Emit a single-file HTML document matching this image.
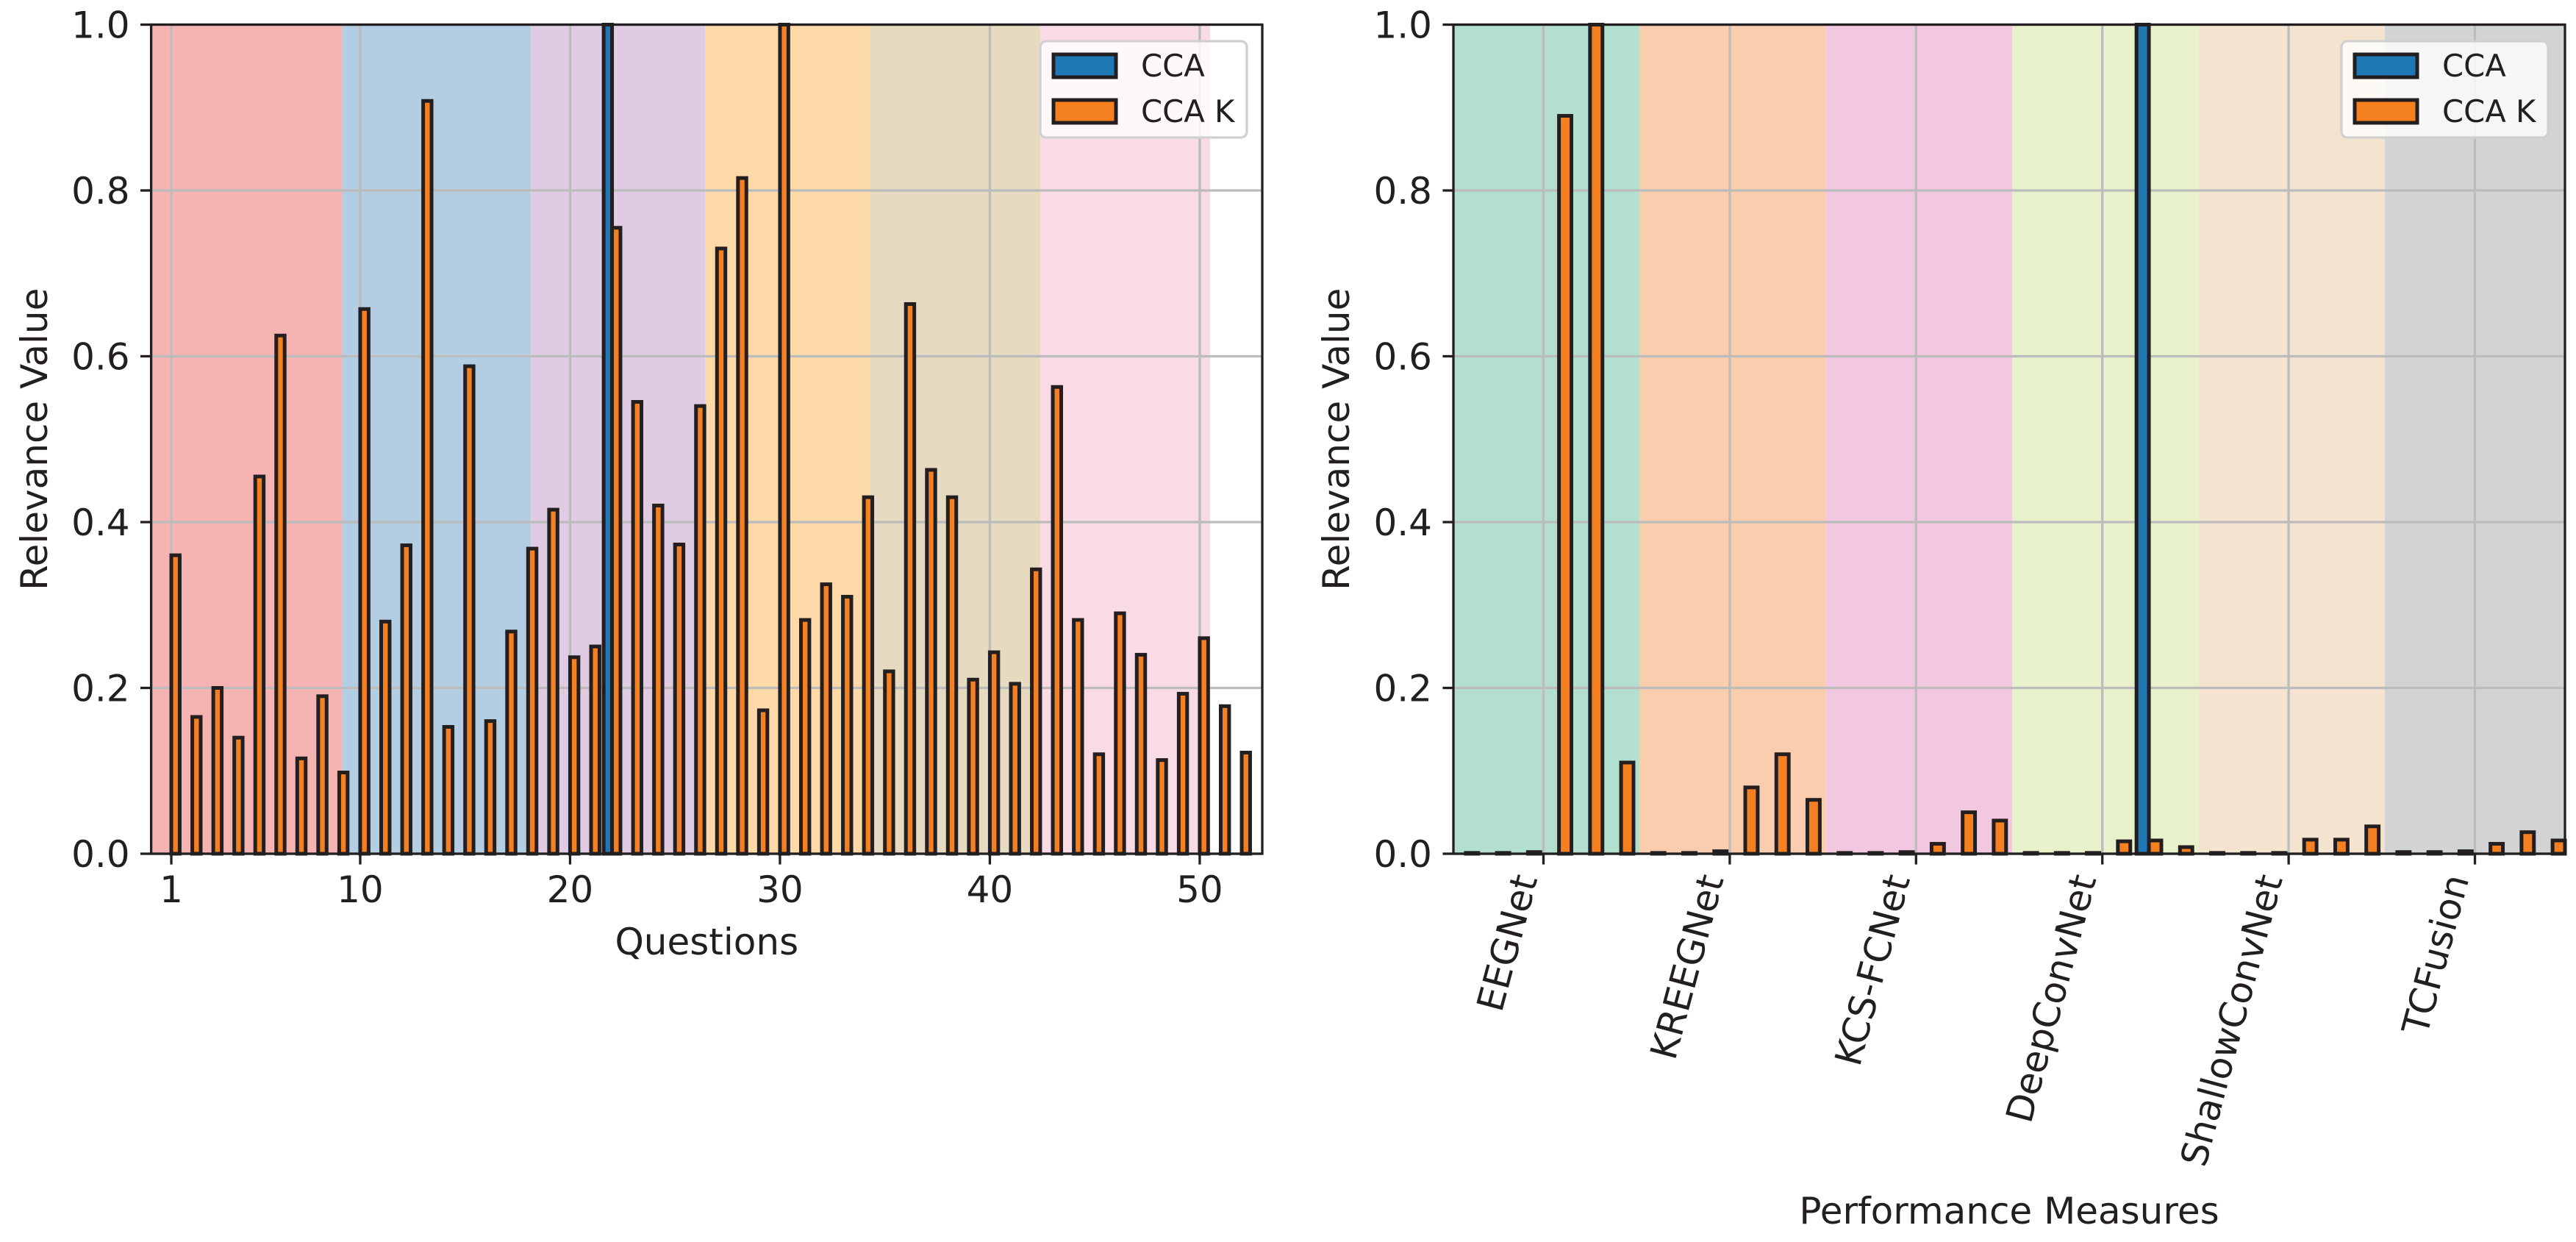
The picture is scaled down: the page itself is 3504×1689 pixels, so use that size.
<!DOCTYPE html>
<html><head><meta charset="utf-8"><style>
html,body{margin:0;padding:0;background:#fff;}
svg{display:block;font-family:"DejaVu Sans","Liberation Sans",sans-serif;}
</style></head><body>
<svg id="fig" width="3504" height="1689" viewBox="0 0 3504 1689" xmlns="http://www.w3.org/2000/svg"></svg>
<script>
// ---- Left chart data ----
const leftQuestions = Array.from({length:52},(_, i)=>i+1);
const leftCCA = [0,0,0,0,0,0,0,0,0,0,0,0,0,0,0,0,0,0,0,0,0,1.0,0,0,0,0,0,0,0,0,0,0,0,0,0,0,0,0,0,0,0,0,0,0,0,0,0,0,0,0,0,0];
const leftCCAK = [0.36,0.165,0.2,0.14,0.455,0.625,0.115,0.19,0.098,0.657,0.28,0.372,0.908,0.153,0.588,0.16,0.268,0.368,0.415,0.237,0.25,0.755,0.545,0.42,0.373,0.54,0.73,0.815,0.173,1.0,0.282,0.325,0.31,0.43,0.22,0.663,0.463,0.43,0.21,0.243,0.205,0.343,0.563,0.282,0.12,0.29,0.24,0.113,0.193,0.26,0.178,0.122];
const leftXTicks = [1,10,20,30,40,50];
const leftSpanEdges = [0.04,9.14,18.14,26.43,34.27,42.4,50.5];
// ---- Right chart data ----
const rightModels = ["EEGNet","KREEGNet","KCS-FCNet","DeepConvNet","ShallowConvNet","TCFusion"];
const rightCCA = [0,0,0,0,0,0, 0,0,0,0,0,0, 0,0,0,0,0,0, 0,0,0,0,1.0,0, 0,0,0,0,0,0, 0,0,0,0,0,0];
const rightCCAK = [0.001,0.001,0.002,0.89,1.0,0.11, 0.001,0.001,0.003,0.08,0.12,0.065, 0.001,0.001,0.002,0.012,0.05,0.04, 0.001,0.001,0.001,0.015,0.016,0.008, 0.001,0.001,0.001,0.017,0.017,0.033, 0.002,0.002,0.003,0.012,0.026,0.016];
const rightSpanEdges = [-0.4,5.6,11.6,17.6,23.6,29.6,35.4];
const yTicks = [0,0.2,0.4,0.6,0.8,1.0];

const NS="http://www.w3.org/2000/svg";
const svg=document.getElementById('fig');
function mk(tag,attrs,parent){const e=document.createElementNS(NS,tag);for(const k in attrs)e.setAttribute(k,attrs[k]);(parent||svg).appendChild(e);return e;}
const EDGE="#231f20", GRID="#bcbcbc", BLUE="#1f77b4", ORANGE="#f58020";
const TOP=33.5, BOT=1161, FS=50;

function drawAxes(cfg){
  const g=mk('g',{});
  
  
  const X=v=>cfg.L+(v-cfg.xmin)/(cfg.xmax-cfg.xmin)*(cfg.R-cfg.L);
  const Y=v=>BOT-v*(BOT-TOP);
  cfg.spanEdges.slice(0,-1).forEach((s,i)=>{
    const r=mk('rect',{x:X(Math.max(s,cfg.xmin)),y:TOP,width:X(cfg.spanEdges[i+1])-X(Math.max(s,cfg.xmin)),height:BOT-TOP,fill:cfg.spanColors[i]},g);
    
    
  });
  yTicks.forEach(t=>{const l=mk('line',{x1:cfg.L,x2:cfg.R,y1:Y(t),y2:Y(t),stroke:GRID,'stroke-width':3.3},g);
    });
  cfg.xticks.forEach(t=>{const l=mk('line',{x1:X(t),x2:X(t),y1:TOP,y2:BOT,stroke:GRID,'stroke-width':3.3},g);
    });
  const w=0.4;
  cfg.cats.forEach((c,i)=>{
    [[cfg.cca[i],-w,BLUE,'bar-cca'],[cfg.ccak[i],0,ORANGE,'bar-cca-k']].forEach(([v,off,col,nm])=>{
      const x0=X(c+off), x1=X(c+off+w);
      const b=mk('rect',{x:x0,y:Y(v),width:x1-x0,height:Math.max(Y(0)-Y(v),0),fill:col,stroke:EDGE,'stroke-width':5},g);
      
      
    });
  });
  const sp=mk('rect',{x:cfg.L,y:TOP,width:cfg.R-cfg.L,height:BOT-TOP,fill:'none',stroke:EDGE,'stroke-width':3.3},g);
  
  yTicks.forEach(t=>{
    mk('line',{x1:cfg.L-14.6,x2:cfg.L,y1:Y(t),y2:Y(t),stroke:EDGE,'stroke-width':3.3},g);
    const tx=mk('text',{x:cfg.L-29,y:Y(t)+18,'text-anchor':'end','font-size':FS,fill:EDGE},g);
    tx.textContent=t.toFixed(1);
    
  });
  cfg.xticks.forEach((t,i)=>{
    mk('line',{x1:X(t),x2:X(t),y1:BOT,y2:BOT+14.6,stroke:EDGE,'stroke-width':3.3},g);
    let tx;
    if(cfg.rot){
      const px=X(t)-8, py=BOT+34;
      tx=mk('text',{x:px,y:py,'text-anchor':'end','font-size':FS,fill:EDGE,transform:`rotate(-75 ${px} ${py})`},g);
    }else{
      tx=mk('text',{x:X(t),y:BOT+66,'text-anchor':'middle','font-size':FS,fill:EDGE},g);
    }
    tx.textContent=cfg.xlabels[i];
    
  });
  const yl=mk('text',{x:0,y:0,'text-anchor':'middle','font-size':FS,fill:EDGE,transform:`translate(${cfg.ylabX} ${(TOP+BOT)/2}) rotate(-90)`},g);
  yl.textContent='Relevance Value';
  
  const xl=mk('text',{x:(cfg.L+cfg.R)/2,y:cfg.xlabY,'text-anchor':'middle','font-size':FS,fill:EDGE},g);
  xl.textContent=cfg.xtitle;
  
  const lg=mk('g',{},g);
  
  mk('rect',{x:cfg.legX,y:56,width:281,height:131,rx:8,fill:'#ffffff','fill-opacity':0.8,stroke:'#d0d0d0','stroke-width':3.3},lg);
  [[BLUE,'CCA',74],[ORANGE,'CCA K',136]].forEach(([col,lab,yy])=>{
    const h=mk('rect',{x:cfg.legX+18,y:yy,width:85,height:31,fill:col,stroke:EDGE,'stroke-width':5},lg);
    
    const t=mk('text',{x:cfg.legX+137,y:yy+30,'font-size':41.7,fill:EDGE},lg);
    t.textContent=lab;
    
  });
}

drawAxes({name:'left-chart',L:205.6,R:1717,xmin:0.04,xmax:52.98,cats:leftQuestions,cca:leftCCA,ccak:leftCCAK,
  xticks:leftXTicks,xlabels:leftXTicks.map(String),rot:false,spanEdges:leftSpanEdges,
  spanColors:['#f5b3b2','#b3cee2','#dfcce2','#fed9a8','#e6dac0','#f9dbe7'],
  ylabX:64,xlabY:1298,xtitle:'Questions',legX:1415});

const rightCats=rightCCAK.map((_,i)=>i);
const rightTicks=rightModels.map((_,i)=>2.5+6*i);
drawAxes({name:'right-chart',L:1977,R:3489,xmin:-0.4,xmax:35.4,cats:rightCats,cca:rightCCA,ccak:rightCCAK,
  xticks:rightTicks,xlabels:rightModels,rot:true,spanEdges:rightSpanEdges,
  spanColors:['#b3dfcf','#f9cdad','#f2c8e0','#e7f1ca','#f3e3cf','#d1d3d5'],
  ylabX:1835,xlabY:1664,xtitle:'Performance Measures',legX:3185});
</script>
</body></html>
